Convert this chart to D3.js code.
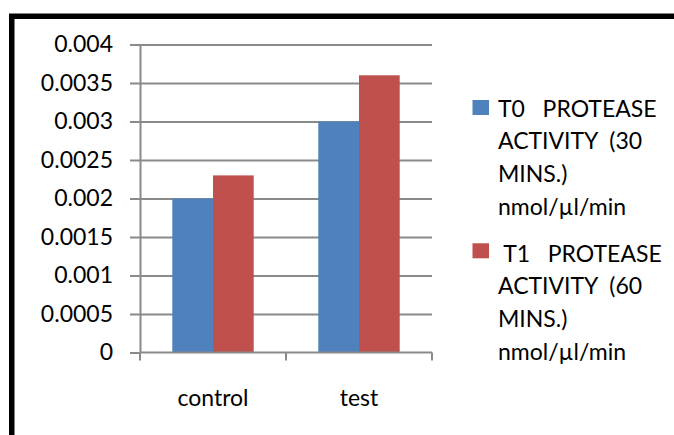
<!DOCTYPE html>
<html>
<head>
<meta charset="utf-8">
<script src="https://cdn.jsdelivr.net/npm/d3@7"></script>
<style>
  html, body { margin: 0; padding: 0; background: #fff; }
  svg { display: block; }
  text { font-family: Lato, "Open Sans", sans-serif; fill: #000; }
</style>
</head>
<body>
<svg id="chart" width="674" height="435"></svg>
<script>
// Protease activity per sample group, two time points
const categories = ["control", "test"];
const t0Values = [0.002, 0.003];   // T0, 30 mins
const t1Values = [0.0023, 0.0036]; // T1, 60 mins
const yTicks = [0, 0.0005, 0.001, 0.0015, 0.002, 0.0025, 0.003, 0.0035, 0.004];
const yTickLabels = ["0", "0.0005", "0.001", "0.0015", "0.002", "0.0025", "0.003", "0.0035", "0.004"];
const seriesKeys = ["t0", "t1"];
const seriesColors = ["#4f81bd", "#c0504d"];
const legendT0 = ["T0   PROTEASE", "ACTIVITY  (30", "MINS.)", "nmol/\u00b5l/min"];
const legendT1 = [" T1   PROTEASE", "ACTIVITY  (60", "MINS.)", "nmol/\u00b5l/min"];

const rows = categories.map((c, i) => ({ category: c, t0: t0Values[i], t1: t1Values[i] }));

const svg = d3.select("#chart");
const W = 674, H = 435;
const plot = { left: 140, right: 432, top: 44.5, bottom: 352.5 };
const axisColor = "#8a8a8a";
const fontSize = 23;

// outer frame
svg.append("rect")
  .attr("x", 11.75).attr("y", 16.25)
  .attr("width", W + 20).attr("height", H + 20)
  .attr("fill", "none").attr("stroke", "#000").attr("stroke-width", 5.5);

const y = d3.scaleLinear().domain([0, 0.004]).range([plot.bottom, plot.top]);
const gapP = 0.4425;
const x = d3.scaleBand().domain(categories).range([plot.left, plot.right])
  .paddingInner(gapP).paddingOuter(gapP / 2);
const xs = d3.scaleBand().domain(seriesKeys).range([0, x.bandwidth()]).padding(0);
const color = d3.scaleOrdinal().domain(seriesKeys).range(seriesColors);

// horizontal gridlines
svg.append("g")
  .attr("transform", `translate(${plot.left},0)`)
  .call(d3.axisLeft(y).tickValues(yTicks.filter(v => v > 0))
    .tickSize(-(plot.right - plot.left)).tickFormat(""))
  .call(g => g.select(".domain").remove())
  .call(g => g.selectAll(".tick line").attr("stroke", axisColor).attr("stroke-width", 2));

// bars
svg.append("g").selectAll("g")
  .data(rows)
  .join("g")
  .attr("transform", d => `translate(${x(d.category)},0)`)
  .selectAll("rect")
  .data(d => seriesKeys.map(k => ({ key: k, value: d[k] })))
  .join("rect")
  .attr("x", d => xs(d.key))
  .attr("y", d => y(d.value))
  .attr("width", xs.bandwidth())
  .attr("height", d => y(0) - y(d.value))
  .attr("fill", d => color(d.key));

// y axis
const yAxis = svg.append("g")
  .attr("transform", `translate(${plot.left},0)`)
  .call(d3.axisLeft(y).tickValues(yTicks)
    .tickFormat((d, i) => yTickLabels[i])
    .tickSize(10).tickSizeOuter(0).tickPadding(17));
yAxis.select(".domain").attr("stroke", axisColor).attr("stroke-width", 2);
yAxis.selectAll(".tick line").attr("stroke", axisColor).attr("stroke-width", 2);
yAxis.selectAll(".tick text")
  .attr("font-size", fontSize).attr("fill", "#000")
  .style("font-family", "Lato, 'Open Sans', sans-serif");

// x axis with ticks on category boundaries
const xAxis = svg.append("g");
xAxis.append("line")
  .attr("x1", plot.left).attr("x2", plot.right)
  .attr("y1", y(0)).attr("y2", y(0))
  .attr("stroke", axisColor).attr("stroke-width", 2);
const edge = (x.step() - x.bandwidth()) / 2;
const bounds = categories.map(c => x(c) - edge).concat([x(categories[categories.length - 1]) + x.bandwidth() + edge]);
xAxis.selectAll("line.tk").data(bounds).join("line")
  .attr("class", "tk")
  .attr("x1", d => d).attr("x2", d => d)
  .attr("y1", y(0)).attr("y2", y(0) + 8)
  .attr("stroke", axisColor).attr("stroke-width", 2);
xAxis.selectAll("text").data(categories).join("text")
  .attr("x", d => x(d) + x.bandwidth() / 2)
  .attr("y", 406)
  .attr("text-anchor", "middle")
  .attr("font-size", fontSize)
  .text(d => d);

// legend
const legendEntries = [
  { key: "t0", lines: legendT0, top: 100, base: 116.7 },
  { key: "t1", lines: legendT1, top: 243.3, base: 261.7 }
];
const lineStep = 32.7;
const lg = svg.append("g");
legendEntries.forEach(e => {
  lg.append("rect")
    .attr("x", 472.5).attr("y", e.top)
    .attr("width", 16.5).attr("height", 15)
    .attr("fill", color(e.key));
  const t = lg.append("text")
    .attr("font-size", fontSize)
    .attr("xml:space", "preserve")
    .style("white-space", "pre");
  e.lines.forEach((ln, i) => {
    t.append("tspan")
      .attr("x", 498)
      .attr("y", e.base + i * lineStep)
      .text(ln);
  });
});
</script>
</body>
</html>
